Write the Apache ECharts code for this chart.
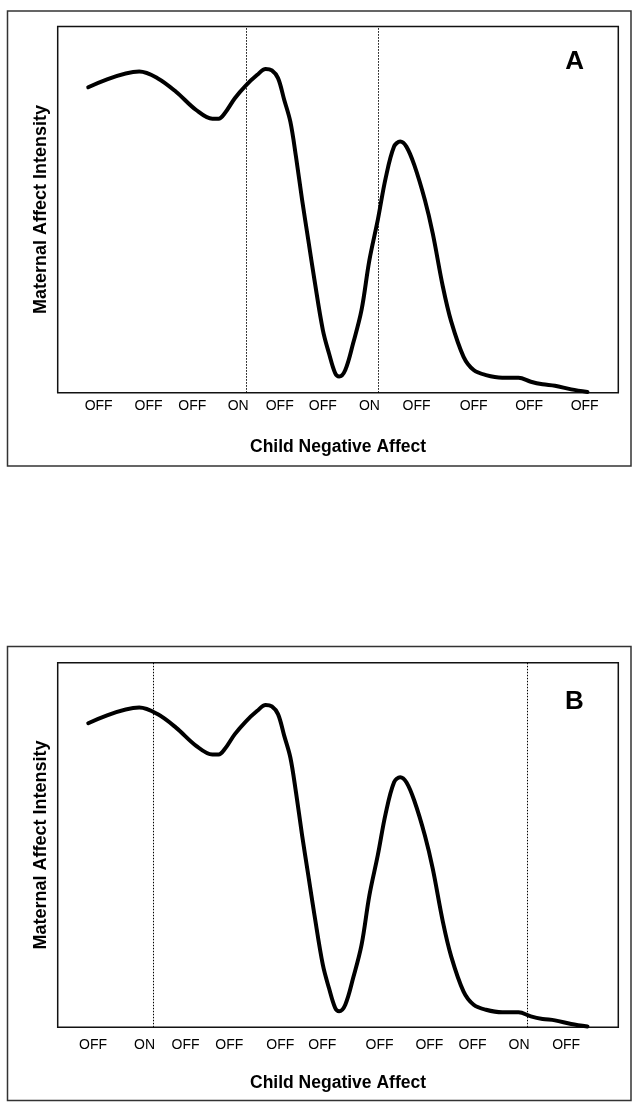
<!DOCTYPE html>
<html>
<head>
<meta charset="utf-8">
<script src="https://cdn.jsdelivr.net/npm/echarts@6/dist/echarts.min.js"></script>
<style>
  html, body { margin: 0; padding: 0; background: #fff; }
  #chart { width: 640px; height: 1109px; }
</style>
</head>
<body>
<div id="chart"></div>
<script>
// ---- Data (x and y in 0-100 plot units) ----
const curveX = [5.45, 14.55, 17.8, 21.1, 24.7, 27.6, 28.7, 29.8, 31.6, 33.5, 35.6, 37.1, 38.2, 39.3, 40.4, 41.5, 42.5, 43.6, 44.7, 45.8, 47.3, 48.4, 49.5, 50.2, 51.3, 52.7, 54.2, 55.6, 57.1, 58.5, 60.0, 61.1, 62.2, 63.6, 65.5, 66.9, 68.7, 70.2, 72.4, 74.2, 76.4, 79.3, 82.2, 84.4, 86.5, 88.7, 91.6, 94.5];
const curveY = [83.4, 87.7, 85.9, 82.2, 77.2, 74.8, 74.8, 76.3, 80.4, 83.8, 86.8, 88.4, 88.0, 85.9, 80.0, 74.0, 64.5, 52.6, 41.7, 30.8, 17.1, 10.7, 5.3, 4.4, 6.2, 13.5, 22.6, 36.2, 47.2, 58.6, 67.2, 68.6, 67.2, 62.2, 52.6, 43.5, 29.0, 19.4, 9.8, 6.2, 4.8, 4.1, 4.1, 3.0, 2.3, 1.9, 0.9, 0.2];

const tickPosA = [7.3, 16.2, 24.0, 32.2, 39.6, 47.3, 55.6, 64.0, 74.2, 84.1, 94.0];
const tickTextA = ['OFF', 'OFF', 'OFF', 'ON', 'OFF', 'OFF', 'ON', 'OFF', 'OFF', 'OFF', 'OFF'];
const tickPosB = [6.3, 15.5, 22.8, 30.6, 39.7, 47.2, 57.4, 66.3, 74.0, 82.3, 90.7];
const tickTextB = ['OFF', 'ON', 'OFF', 'OFF', 'OFF', 'OFF', 'OFF', 'OFF', 'OFF', 'ON', 'OFF'];

const onsetA = [33.7, 57.2];
const onsetB = [17.0, 83.8];

const panelLetters = ['A', 'B'];
const xTitle = 'Child Negative Affect';
const yTitle = 'Maternal Affect Intensity';

// ---- Build ----
const FONT = '"Liberation Sans", Arial, Helvetica, sans-serif';
const curve = curveX.map((x, i) => [x, curveY[i]]);

function labelFor(pos, txt) {
  return function (v) {
    let best = 0, d = Infinity;
    pos.forEach((p, i) => { const dd = Math.abs(p - v); if (dd < d) { d = dd; best = i; } });
    return txt[best];
  };
}

function xAxisFor(gridIndex, pos, txt, margin) {
  return {
    type: 'value', gridIndex, min: 0, max: 100,
    axisLine: { show: false }, axisTick: { show: false }, splitLine: { show: false },
    axisLabel: {
      show: true, customValues: pos, formatter: labelFor(pos, txt),
      color: '#000', fontFamily: FONT, fontSize: 14, margin: margin, hideOverlap: false
    }
  };
}
function yAxisFor(gridIndex) {
  return {
    type: 'value', gridIndex, min: 0, max: 100,
    axisLine: { show: false }, axisTick: { show: false }, splitLine: { show: false },
    axisLabel: { show: false }
  };
}
function seriesFor(idx, onsets) {
  return {
    type: 'line', xAxisIndex: idx, yAxisIndex: idx, data: curve,
    smooth: 0.35, symbol: 'none', clip: false,
    lineStyle: { color: '#000', width: 4, cap: 'round', join: 'round' },
    markLine: {
      silent: true, symbol: ['none', 'none'], label: { show: false },
      lineStyle: { color: '#000', type: [1.5, 1.5], width: 1 },
      data: onsets.map(v => ({ xAxis: v }))
    },
    animation: false
  };
}

const chart = echarts.init(document.getElementById('chart'), null, { renderer: 'canvas' });
chart.setOption({
  backgroundColor: '#fff',
  animation: false,
  grid: [
    { left: 57.7, top: 26.5, width: 560.6, height: 366.2, show: true, borderColor: '#111', borderWidth: 1.5, backgroundColor: 'transparent' },
    { left: 57.7, top: 662.7, width: 560.6, height: 364.6, show: true, borderColor: '#111', borderWidth: 1.5, backgroundColor: 'transparent' }
  ],
  xAxis: [xAxisFor(0, tickPosA, tickTextA, 6), xAxisFor(1, tickPosB, tickTextB, 10.5)],
  yAxis: [yAxisFor(0), yAxisFor(1)],
  series: [seriesFor(0, onsetA), seriesFor(1, onsetB)],
  graphic: [
    { type: 'rect', shape: { x: 7.5, y: 11, width: 623.5, height: 455 }, style: { fill: 'none', stroke: '#333', lineWidth: 1.5 } },
    { type: 'rect', shape: { x: 7.5, y: 646.5, width: 623.5, height: 454 }, style: { fill: 'none', stroke: '#333', lineWidth: 1.5 } },
    { type: 'text', x: 574.7, y: 61.5, style: { text: panelLetters[0], font: 'bold 26px ' + FONT, fill: '#000', textAlign: 'center', textVerticalAlign: 'middle' } },
    { type: 'text', x: 574.5, y: 701.5, style: { text: panelLetters[1], font: 'bold 26px ' + FONT, fill: '#000', textAlign: 'center', textVerticalAlign: 'middle' } },
    { type: 'text', x: 338, y: 447, style: { text: xTitle, font: 'bold 17.5px ' + FONT, fill: '#000', textAlign: 'center', textVerticalAlign: 'middle' } },
    { type: 'text', x: 338, y: 1083, style: { text: xTitle, font: 'bold 17.5px ' + FONT, fill: '#000', textAlign: 'center', textVerticalAlign: 'middle' } },
    { type: 'text', x: 41, y: 209.5, rotation: Math.PI / 2, style: { text: yTitle, font: 'bold 18px ' + FONT, fill: '#000', textAlign: 'center', textVerticalAlign: 'middle' } },
    { type: 'text', x: 41, y: 845, rotation: Math.PI / 2, style: { text: yTitle, font: 'bold 18px ' + FONT, fill: '#000', textAlign: 'center', textVerticalAlign: 'middle' } }
  ]
});
</script>
</body>
</html>
